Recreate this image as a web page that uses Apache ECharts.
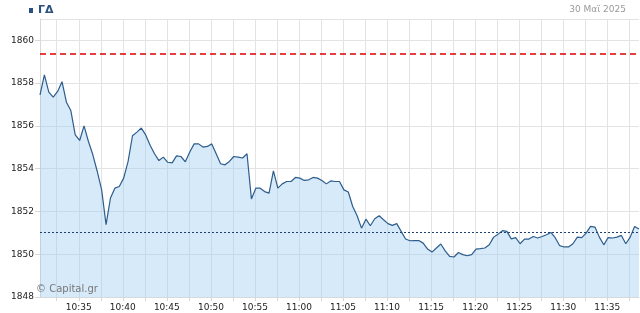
<!DOCTYPE html>
<html>
<head>
<meta charset="utf-8">
<script src="https://cdn.jsdelivr.net/npm/echarts@6/dist/echarts.min.js"></script>
<style>html,body{margin:0;padding:0;background:#fff}#c{width:640px;height:313px}</style>
</head>
<body>
<div id="c"></div>
<script>
// ---- data ----
const startTime = '10:30:36';
const stepSeconds = 30;
const prices = [
  1857.45,1858.39,1857.58,1857.35,1857.61,1858.07,1857.11,1856.72,1855.58,1855.32,
  1856.00,1855.27,1854.65,1853.87,1853.01,1851.38,1852.63,1853.09,1853.17,1853.56,
  1854.34,1855.54,1855.71,1855.90,1855.58,1855.10,1854.70,1854.38,1854.54,1854.30,
  1854.27,1854.60,1854.57,1854.32,1854.78,1855.16,1855.16,1855.01,1855.04,1855.16,
  1854.70,1854.23,1854.18,1854.34,1854.57,1854.54,1854.50,1854.70,1852.58,1853.09,
  1853.09,1852.93,1852.86,1853.90,1853.09,1853.29,1853.40,1853.40,1853.59,1853.56,
  1853.45,1853.48,1853.59,1853.56,1853.45,1853.29,1853.43,1853.40,1853.40,1853.01,
  1852.91,1852.23,1851.80,1851.22,1851.64,1851.33,1851.66,1851.80,1851.61,1851.43,
  1851.35,1851.43,1851.07,1850.71,1850.63,1850.64,1850.64,1850.52,1850.24,1850.10,
  1850.29,1850.48,1850.16,1849.90,1849.87,1850.08,1849.98,1849.93,1849.98,1850.24,
  1850.26,1850.29,1850.44,1850.80,1850.94,1851.10,1851.07,1850.72,1850.78,1850.49,
  1850.71,1850.71,1850.83,1850.76,1850.83,1850.91,1851.02,1850.76,1850.40,1850.34,
  1850.34,1850.49,1850.80,1850.78,1850.99,1851.30,1851.27,1850.80,1850.44,1850.78,
  1850.76,1850.80,1850.88,1850.49,1850.80,1851.30,1851.18
];
const prevCloseLevel = 1859.36;   // red dashed
const refLevel = 1851.04;         // navy dotted
const gridTimes = ['10:32:30','10:35','10:37:30','10:40','10:42:30','10:45','10:47:30','10:50','10:52:30','10:55','10:57:30','11:00','11:02:30','11:05','11:07:30','11:10','11:12:30','11:15','11:17:30','11:20','11:22:30','11:25','11:27:30','11:30','11:32:30','11:35','11:37:30'];
const labelTimes = ['10:35','10:40','10:45','10:50','10:55','11:00','11:05','11:10','11:15','11:20','11:25','11:30','11:35'];
const yTicks = [1848,1850,1852,1854,1856,1858,1860];
const titleText = 'ΓΔ';
const dateText = '30 Μαϊ 2025';
const sourceText = '© Capital.gr';

// ---- helpers ----
function toSec(s){const p=s.split(':').map(Number);return p[0]*3600+p[1]*60+(p[2]||0);}
function fmt(sec){const h=Math.floor(sec/3600),m=Math.round((sec%3600)/60);return h+':'+String(m).padStart(2,'0');}
const t0 = toSec(startTime);
const seriesData = prices.map((v,i)=>[t0+i*stepSeconds, v]);
const xMin = seriesData[0][0], xMax = seriesData[seriesData.length-1][0];

const chart = echarts.init(document.getElementById('c'), null, {renderer:'canvas'});
const axisFont = {fontFamily:'Verdana, "DejaVu Sans", sans-serif', fontSize:9, color:'#222'};
chart.setOption({
  animation:false,
  grid:{left:40, right:1, top:19, bottom:16},
  xAxis:{
    type:'value', min:xMin, max:xMax,
    axisLine:{show:true, lineStyle:{color:'#d8d8d8'}},
    axisTick:{show:true, length:4, lineStyle:{color:'#d8d8d8'}, customValues:gridTimes.map(toSec)},
    axisLabel:Object.assign({customValues:labelTimes.map(toSec), formatter:v=>fmt(v), margin:6, showMinLabel:true, showMaxLabel:true}, axisFont),
    splitLine:{show:true, lineStyle:{color:'#e3e3e3', width:1}}
  },
  yAxis:{
    type:'value', min:1848, max:1861, interval:2,
    axisLine:{show:true, lineStyle:{color:'#d8d8d8'}},
    axisTick:{show:true, length:5, lineStyle:{color:'#d8d8d8'}},
    axisLabel:Object.assign({margin:6, showMaxLabel:false, formatter:v=>yTicks.indexOf(v)>=0?String(v):''}, axisFont),
    splitLine:{show:true, lineStyle:{color:'#e3e3e3', width:1}}
  },
  series:[{
    type:'line', data:seriesData, showSymbol:false, symbol:'none',
    lineStyle:{color:'#2d5d8c', width:1.2},
    areaStyle:{color:'#9ccbef', opacity:0.4, origin:'start'},
    markLine:{
      silent:true, symbol:['none','none'], label:{show:false},
      data:[
        {yAxis:prevCloseLevel, lineStyle:{color:'#e00000', type:[6,4], width:1.5}},
        {yAxis:refLevel, lineStyle:{color:'#1f3f6f', type:[2,2], width:1}}
      ]
    }
  }],
  graphic:[
    {type:'rect', left:29, top:8, shape:{width:4, height:5}, style:{fill:'#2b4f7e'}},
    {type:'text', left:38, top:5, style:{text:titleText, font:'bold 11px Verdana, "DejaVu Sans", sans-serif', fill:'#2b4f7e'}},
    {type:'text', right:14, top:5, style:{text:dateText, font:'9px Verdana, "DejaVu Sans", sans-serif', fill:'#999'}},
    {type:'text', left:36, top:284, z:10, style:{text:sourceText, font:'10px Verdana, "DejaVu Sans", sans-serif', fill:'#777'}}
  ]
});
</script>
</body>
</html>
